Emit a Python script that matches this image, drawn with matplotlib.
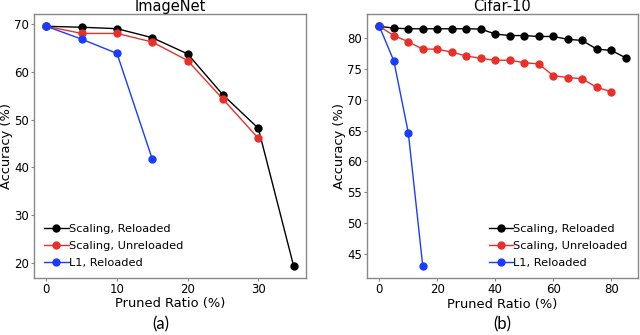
import matplotlib
matplotlib.use("Agg")
import matplotlib.pyplot as plt

# ImageNet data
in_x_black = [0, 5, 10, 15, 20, 25, 30, 35]
in_y_black = [69.6, 69.4, 69.1, 67.2, 63.8, 55.2, 48.2, 19.3]
in_x_red = [0, 5, 10, 15, 20, 25, 30]
in_y_red = [69.6, 68.1, 68.1, 66.3, 62.4, 54.3, 46.1]
in_x_blue = [0, 5, 10, 15]
in_y_blue = [69.6, 66.9, 63.9, 41.7]

# Cifar-10 data
cf_x_black = [0, 5, 10, 15, 20, 25, 30, 35, 40, 45, 50, 55, 60, 65, 70, 75, 80, 85]
cf_y_black = [81.9, 81.6, 81.5, 81.5, 81.5, 81.5, 81.5, 81.45, 80.65, 80.4, 80.4,
              80.25, 80.25, 79.8, 79.6, 78.2, 78.0, 76.8]
cf_x_red = [0, 5, 10, 15, 20, 25, 30, 35, 40, 45, 50, 55, 60, 65, 70, 75, 80]
cf_y_red = [81.9, 80.4, 79.4, 78.2, 78.2, 77.7, 77.1, 76.7, 76.4, 76.4, 76.0,
            75.8, 73.9, 73.6, 73.4, 72.0, 71.3]
cf_x_blue = [0, 5, 10, 15]
cf_y_blue = [81.9, 76.3, 64.65, 43.0]

labels = ["Scaling, Reloaded", "Scaling, Unreloaded", "L1, Reloaded"]
colors = ["black", "#e8302a", "#1a3cff"]

plt.rcParams['font.family'] = ['DejaVu Sans']
plt.rcParams['font.size'] = 8

fig = plt.figure(figsize=(6.4, 3.35), dpi=100)
ax1 = fig.add_axes([34/640, 1-278/335, 272/640, (278-14.3)/335])
ax2 = fig.add_axes([367/640, 1-278.3/335, 271/640, (278.3-14.3)/335])

def style(ax):
    for s in ax.spines.values():
        s.set_color('#888888')
        s.set_linewidth(1.0)
    ax.tick_params(colors='#888888', labelcolor='black', labelsize=8.5,
                   length=2, pad=1.5)

for ax, data in [
    (ax1, [(in_x_black, in_y_black), (in_x_red, in_y_red), (in_x_blue, in_y_blue)]),
    (ax2, [(cf_x_black, cf_y_black), (cf_x_red, cf_y_red), (cf_x_blue, cf_y_blue)]),
]:
    for (x, y), c, l in zip(data, colors, labels):
        ax.plot(x, y, color=c, marker='o', markersize=5, linewidth=1.0, label=l)
    style(ax)
    ax.set_xlabel("Pruned Ratio (%)", fontsize=9.4, labelpad=1)
    ax.set_ylabel("Accuracy (%)", fontsize=9.4, labelpad=1)

ax1.set_title("ImageNet", fontsize=10.5, pad=1.5)
ax2.set_title("Cifar-10", fontsize=10.5, pad=1.5)
ax1.set_xticks([0, 10, 20, 30])
ax1.set_yticks([20, 30, 40, 50, 60, 70])
ax2.set_xticks([0, 20, 40, 60, 80])
ax2.set_yticks([45, 50, 55, 60, 65, 70, 75, 80])

ax1.legend(loc='lower left', frameon=False, fontsize=8.2, handlelength=2.15,
           handletextpad=0.0, labelspacing=0.6, borderaxespad=0.5)
ax2.legend(loc='lower right', frameon=False, fontsize=8.2, handlelength=2.15,
           handletextpad=0.0, labelspacing=0.6, borderaxespad=0.5)

fig.text(161/640, 1-324/335, "(a)", ha='center', va='center', fontsize=12,
         family=['Lato', 'DejaVu Sans'])
fig.text(502/640, 1-324/335, "(b)", ha='center', va='center', fontsize=12,
         family=['Lato', 'DejaVu Sans'])

fig.savefig("out.png", dpi=100)
